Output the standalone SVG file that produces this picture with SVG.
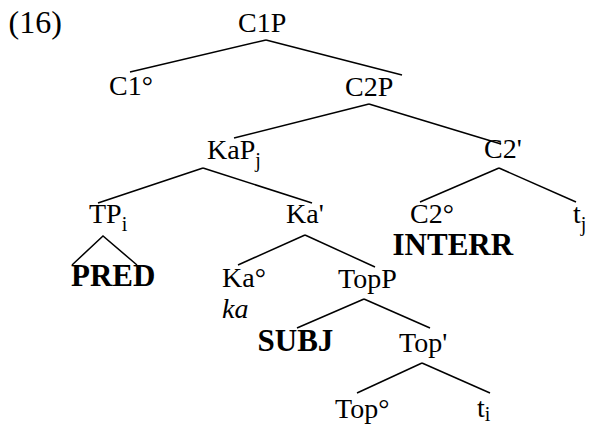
<svg xmlns="http://www.w3.org/2000/svg" width="589" height="426" viewBox="0 0 589 426">
<style>
text{font-family:"Liberation Serif","Times New Roman",serif;font-size:28px;fill:#000}
.b{font-weight:bold;font-size:31px}
.i{font-style:italic}
.s{font-size:20px}
.e line,.e polyline{stroke:#000;stroke-width:1.5;fill:none}
</style>
<rect width="589" height="426" fill="#fff"/>
<text x="8.5" y="33" style="font-size:32px">(16)</text>
<g class="e" id="connectors">
<line x1="266" y1="40" x2="130" y2="72"/>
<line x1="266" y1="40" x2="402" y2="75"/>
<line x1="369" y1="104" x2="234" y2="138"/>
<line x1="369" y1="104" x2="501" y2="144"/>
<line x1="203" y1="168" x2="98" y2="203"/>
<line x1="203" y1="168" x2="312" y2="203"/>
<line x1="499" y1="168" x2="420" y2="202"/>
<line x1="499" y1="168" x2="576" y2="202"/>
<polyline points="72,265 103,236 137,265"/>
<line x1="305" y1="235" x2="238" y2="265"/>
<line x1="305" y1="235" x2="375" y2="267"/>
<line x1="364" y1="299" x2="297" y2="328"/>
<line x1="364" y1="299" x2="430" y2="328"/>
<line x1="422" y1="363" x2="357" y2="393"/>
<line x1="422" y1="363" x2="490" y2="393"/>
</g>
<g id="C1P"><text x="238" y="32">C1P</text></g>
<g id="C1"><text x="109" y="95">C1°</text></g>
<g id="C2P"><text x="345" y="96">C2P</text></g>
<g id="KaP"><text x="207" y="159">KaP<tspan class="s" dy="8">j</tspan></text></g>
<g id="C2bar"><text x="484" y="158">C2'</text></g>
<g id="TP"><text x="89" y="223">TP<tspan class="s" dy="8">i</tspan></text></g>
<g id="PRED"><text class="b" x="71" y="286">PRED</text></g>
<g id="Kabar"><text x="286" y="223">Ka'</text></g>
<g id="C2"><text x="410" y="223">C2°</text></g>
<g id="INTERR"><text class="b" x="392.5" y="255">INTERR</text></g>
<g id="tj"><text x="573" y="223">t<tspan class="s" dy="8">j</tspan></text></g>
<g id="Ka"><text x="222" y="287">Ka°</text></g>
<g id="ka"><text class="i" x="222" y="318">ka</text></g>
<g id="TopP"><text x="338" y="288">TopP</text></g>
<g id="SUBJ"><text class="b" x="257.5" y="351">SUBJ</text></g>
<g id="Topbar"><text x="399" y="352">Top'</text></g>
<g id="Top"><text x="335" y="418">Top°</text></g>
<g id="ti"><text x="477" y="417">t<tspan class="s" dy="4">i</tspan></text></g>
</svg>
